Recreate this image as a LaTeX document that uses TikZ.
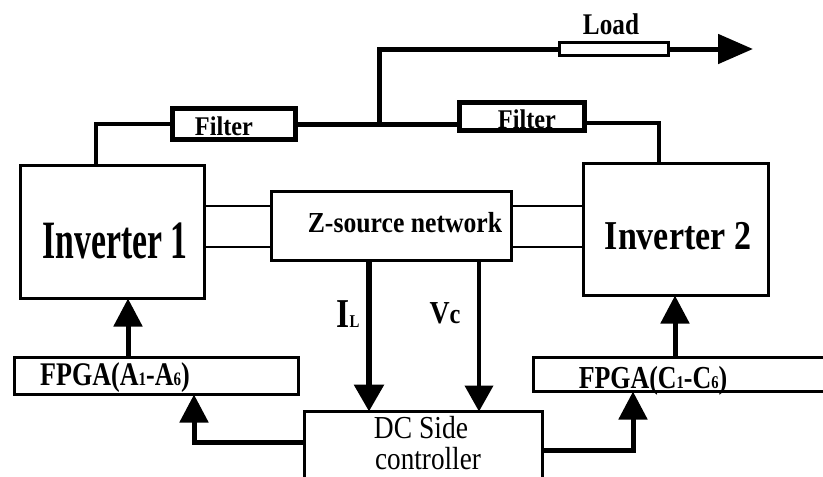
\documentclass[tikz,border=0pt]{standalone}
\usepackage{fontspec}
\setmainfont{Liberation Serif}
\usepackage{graphicx}
\usetikzlibrary{arrows.meta}
\newcommand{\mytxt}[3]{\scalebox{#2}[1]{\fontsize{#1}{#1}\selectfont #3}}
\begin{document}
\begin{tikzpicture}[x=1pt,y=-1pt,
  box/.style={draw=black, line width=3pt, rectangle, inner sep=0pt, outer sep=0pt},
  fbox/.style={box, line width=5pt},
  txt/.style={anchor=base, inner sep=0pt, outer sep=0pt},
  wire/.style={line width=5pt},
  feed/.style={line width=4pt},
  thinwire/.style={line width=2.5pt},
  arr/.style={line width=5pt, -{Triangle[length=28pt,width=28pt]}},
]
\useasboundingbox (0,0) rectangle (823,477);
\clip (0,0) rectangle (823,477);
% texts
\node[txt] (tload) at (611,34) {\mytxt{30}{0.84}{\bfseries Load}};
\node[txt] (tf1) at (224,135) {\mytxt{27}{0.9}{\bfseries Filter}};
\node[txt] (tf2) at (527,128) {\mytxt{27}{0.9}{\bfseries Filter}};
\node[txt] (tinv1) at (115,258) {\mytxt{54}{0.625}{\bfseries Inverter 1}};
\node[txt] (tinv2) at (678,249) {\mytxt{41}{0.83}{\bfseries Inverter 2}};
\node[txt] (tzs) at (405,232) {\mytxt{29}{0.886}{\bfseries Z-source network}};
\node[txt] (til) at (348,327) {\mytxt{41}{0.82}{\bfseries I{\fontsize{18}{18}\selectfont L}}};
\node[txt] (tvc) at (445,323) {\mytxt{32}{0.87}{\bfseries V{\fontsize{28}{28}\selectfont c}}};
\node[txt] (tfa) at (115,385) {\mytxt{33}{0.79}{\bfseries FPGA(A{\fontsize{19}{19}\selectfont 1}-A{\fontsize{19}{19}\selectfont 6})}};
\node[txt] (tfc) at (653,388) {\mytxt{32}{0.81}{\bfseries FPGA(C{\fontsize{18}{18}\selectfont 1}-C{\fontsize{18}{18}\selectfont 6})}};
\node[txt] (tdc1) at (421,438) {\mytxt{32}{0.86}{DC Side}};
\node[txt] (tdc2) at (428,469) {\mytxt{32}{0.85}{controller}};
% boxes
\node[box, minimum width=109pt, minimum height=13pt] (load) at (614,49) {};
\node[fbox, minimum width=123pt, minimum height=31pt] (f1) at (234,124) {};
\node[fbox, minimum width=125pt, minimum height=28pt] (f2) at (522,116.5) {};
\node[box, minimum width=184pt, minimum height=133pt] (inv1) at (112.5,232) {};
\node[box, minimum width=185pt, minimum height=132pt] (inv2) at (676,229.5) {};
\node[box, minimum width=240pt, minimum height=69pt] (zs) at (391.5,226) {};
\node[box, minimum width=284pt, minimum height=37pt] (fa) at (156.5,376) {};
\node[box, minimum width=296pt, minimum height=34pt] (fc) at (681.75,374.5) {};
\node[box, minimum width=238pt, minimum height=80pt] (dc) at (423.5,451.5) {};
% coordinates
\coordinate (j) at (379,124);
\coordinate (tip) at (753,49);
\coordinate (b1) at (96,0);
\coordinate (b2) at (659,0);
\coordinate (ya) at (0,206);
\coordinate (yb) at (0,247);
\coordinate (xil) at (369,0);
\coordinate (xvc) at (479,0);
\coordinate (xa) at (128,0);
\coordinate (xc) at (675,0);
\coordinate (ydl) at (0,442);
\coordinate (xdl) at (194,0);
\coordinate (ydr) at (0,450);
\coordinate (xdr) at (633,0);
% connectors
\draw[wire] (f1.east) -- (f1.east -| f2.west);
\draw[wire] (j) |- (load.west);
\draw[wire, -{Triangle[length=35pt,width=29pt]}] (load.east) -- (tip);
\draw[feed] (f1.west) -| (b1 |- inv1.north);
\draw[feed] ([yshift=-6.5pt]f2.east) -| (b2 |- inv2.north);
\draw[thinwire] (inv1.east |- ya) -- (zs.west |- ya);
\draw[thinwire] (inv1.east |- yb) -- (zs.west |- yb);
\draw[thinwire] (zs.east |- ya) -- (inv2.west |- ya);
\draw[thinwire] (zs.east |- yb) -- (inv2.west |- yb);
\draw[line width=6pt, -{Triangle[length=27pt,width=29pt]}] (xil |- zs.south) -- (xil |- dc.north);
\draw[line width=4pt, -{Triangle[length=26pt,width=28pt]}] (xvc |- zs.south) -- (xvc |- dc.north);
\draw[arr] (xa |- fa.north) -- (xa |- inv1.south);
\draw[arr] (xc |- fc.north) -- (xc |- inv2.south);
\draw[arr] (dc.west |- ydl) -| (xdl |- fa.south);
\draw[arr] (dc.east |- ydr) -| (xdr |- fc.south);
\end{tikzpicture}
\end{document}
